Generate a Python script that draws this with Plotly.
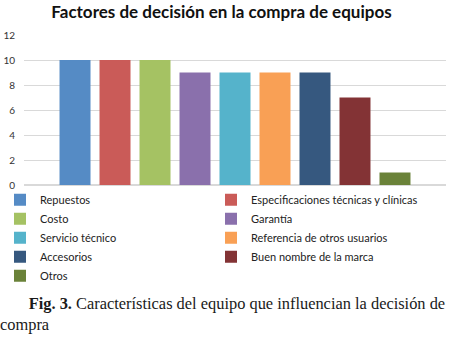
import plotly.graph_objects as go

title = "Factores de decisión en la compra de equipos"
category = ["Factores"]
series_names = ["Repuestos", "Especificaciones técnicas y clínicas", "Costo", "Garantía",
                "Servicio técnico", "Referencia de otros usuarios", "Accesorios",
                "Buen nombre de la marca", "Otros"]
series_values = [10, 10, 10, 9, 9, 9, 9, 7, 1]
colors = ["#558BC5", "#CA5B58", "#A5C263", "#8A70AC", "#55B3CB", "#F9A055",
          "#36587F", "#833335", "#6A8239"]
y_ticks = [0, 2, 4, 6, 8, 10, 12]
caption_bold = "Fig. 3."
caption_text = "Características del equipo que influencian la decisión de"
caption_line2 = "compra"

fig = go.Figure()
for name, val, col in zip(series_names, series_values, colors):
    fig.add_trace(go.Bar(x=category, y=[val], name=name, marker_color=col,
                         marker_line_width=0))

fig.update_layout(
    width=452, height=337,
    margin=dict(l=24, r=6, t=35, b=152, autoexpand=False),
    paper_bgcolor="white", plot_bgcolor="white",
    barmode="group", bargap=0.147, bargroupgap=0.225,
    font=dict(family="Lato, Liberation Sans, sans-serif", size=11, color="#404040"),
    title=dict(text="<b>" + title + "</b>", x=0.49, xanchor="center", y=1.0, yanchor="top",
               pad=dict(t=6),
               font=dict(family="Lato, Liberation Sans, sans-serif", size=17, color="#111111")),
    showlegend=True,
    legend=dict(orientation="h", xref="container", x=0.0, xanchor="left",
                y=-0.001, yanchor="top",
                entrywidthmode="pixels", entrywidth=166, traceorder="normal",
                font=dict(size=11, color="#222222"), itemsizing="constant",
                bgcolor="rgba(0,0,0,0)"),
)
fig.update_xaxes(showticklabels=False, showgrid=False, showline=False, zeroline=False)
fig.update_yaxes(range=[0, 12], tickvals=y_ticks, showgrid=True, gridcolor="#D9D9D9",
                 gridwidth=1, zeroline=True, zerolinecolor="#D9D9D9", showline=False,
                 ticks="", tickfont=dict(size=10, color="#333333"), ticklabelstandoff=8,
                 automargin=False)

fig.add_annotation(
    xref="paper", yref="paper", x=-0.0616, y=-0.713, xanchor="left", yanchor="top",
    align="left", showarrow=False,
    text="&nbsp;&nbsp;&nbsp;&nbsp;&nbsp;&nbsp;&nbsp;<b>" + caption_bold + "</b> " + caption_text + "<br>" + caption_line2,
    font=dict(family="Liberation Serif, Times New Roman, serif", size=16.4, color="#1a1a1a"),
)

fig.write_html("out.html", config={"displayModeBar": False},
               post_script="document.body.style.margin='0';")
